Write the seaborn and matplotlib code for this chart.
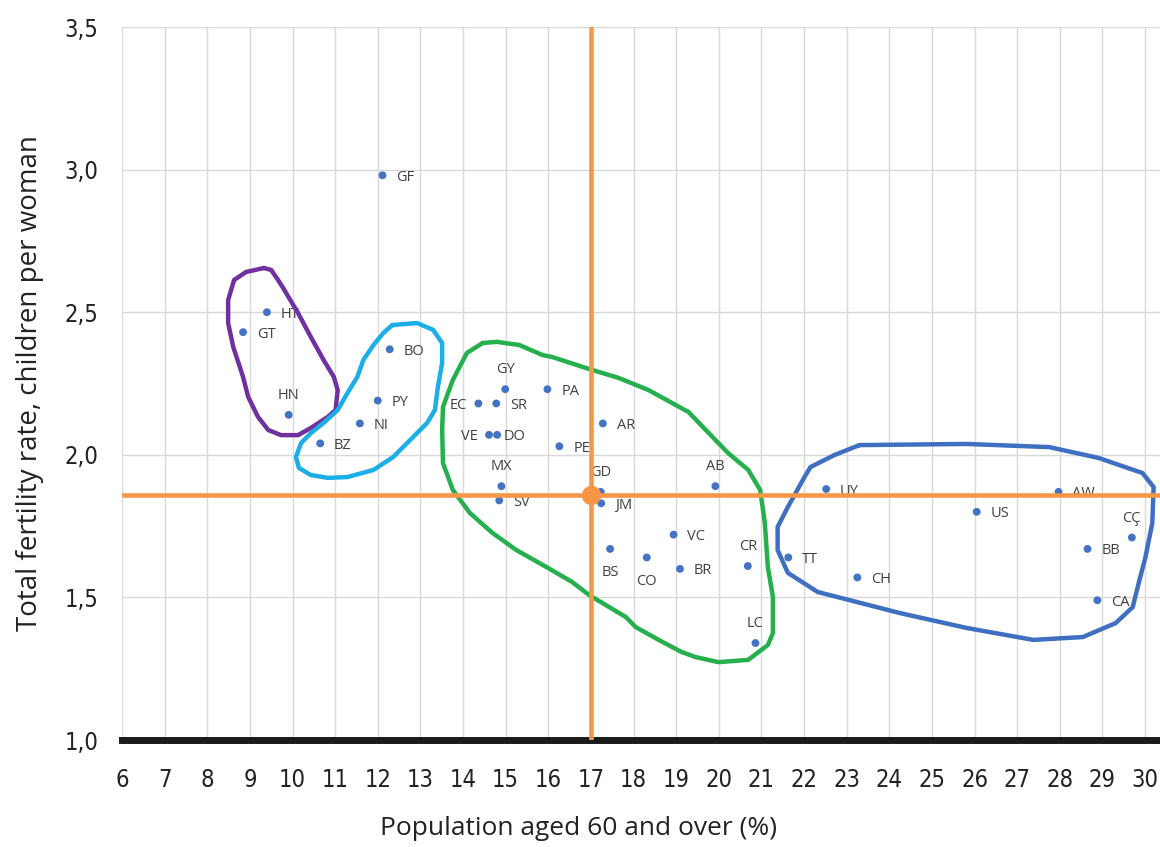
import numpy as np
import pandas as pd
import matplotlib
matplotlib.use("Agg")
import matplotlib.pyplot as plt
from matplotlib import font_manager
import seaborn as sns

# country codes with population aged 60+ (%) and total fertility rate
codes = ['GF', 'HT', 'GT', 'HN', 'BO', 'PY', 'NI', 'BZ', 'GY', 'PA', 'EC', 'SR',
         'AR', 'VE', 'DO', 'PE', 'MX', 'SV', 'GD', 'JM', 'AB', 'VC', 'BS', 'CO',
         'BR', 'CR', 'LC', 'TT', 'UY', 'AW', 'US', 'CÇ', 'BB', 'CH', 'CA']
age60 = [12.11, 9.40, 8.84, 9.91, 12.28, 12.00, 11.58, 10.65, 14.99, 15.98, 14.36, 14.78,
         17.28, 14.61, 14.80, 16.26, 14.90, 14.85, 17.23, 17.24, 19.92, 18.94, 17.45, 18.31,
         19.09, 20.68, 20.86, 21.63, 22.52, 27.97, 26.05, 29.69, 28.65, 23.25, 28.88]
tfr = [2.98, 2.50, 2.43, 2.14, 2.37, 2.19, 2.11, 2.04, 2.23, 2.23, 2.18, 2.18,
       2.11, 2.07, 2.07, 2.03, 1.89, 1.84, 1.87, 1.83, 1.89, 1.72, 1.67, 1.64,
       1.60, 1.61, 1.34, 1.64, 1.88, 1.87, 1.80, 1.71, 1.67, 1.57, 1.49]

# reference (average) lines
mean_age = 17.0
mean_tfr = 1.86

# hand drawn group outlines (x = age 60+, y = fertility)
purple_x = [9.33, 9.50, 9.66, 9.78, 10.13, 10.43, 10.73, 10.97, 11.06, 11.01, 10.83, 10.43,
            10.13, 9.73, 9.43, 9.19, 8.96, 8.84, 8.61, 8.49, 8.49, 8.63, 8.91, 9.33]
purple_y = [2.655, 2.648, 2.613, 2.585, 2.497, 2.413, 2.332, 2.273, 2.227, 2.157, 2.133, 2.094,
            2.069, 2.069, 2.087, 2.133, 2.203, 2.273, 2.378, 2.462, 2.543, 2.613, 2.641, 2.655]
cyan_x = [12.34, 12.92, 13.30, 13.51, 13.51, 13.41, 13.34, 13.16, 12.76, 12.36, 11.90, 11.29,
          10.83, 10.43, 10.15, 10.08, 10.20, 10.43, 10.73, 11.06, 11.29, 11.52, 11.66, 11.90,
          12.13, 12.34]
cyan_y = [2.455, 2.462, 2.438, 2.392, 2.322, 2.238, 2.157, 2.112, 2.052, 1.992, 1.947, 1.922,
          1.919, 1.929, 1.954, 1.992, 2.041, 2.076, 2.112, 2.157, 2.217, 2.273, 2.332, 2.385,
          2.427, 2.455]
green_x = [14.46, 14.79, 15.32, 15.86, 16.09, 16.89, 17.66, 18.35, 19.29, 19.92, 20.22, 20.69,
           20.97, 21.08, 21.15, 21.27, 21.27, 21.15, 20.69, 19.99, 19.45, 19.12, 18.59, 18.05,
           17.82, 16.96, 16.56, 15.95, 15.25, 14.69, 14.16, 13.76, 13.53, 13.51, 13.53, 13.76,
           14.09, 14.46]
green_y = [2.392, 2.396, 2.385, 2.350, 2.343, 2.304, 2.269, 2.227, 2.150, 2.052, 2.006, 1.947,
           1.877, 1.761, 1.607, 1.501, 1.375, 1.333, 1.281, 1.273, 1.291, 1.309, 1.351, 1.396,
           1.431, 1.508, 1.554, 1.607, 1.666, 1.726, 1.796, 1.877, 1.971, 2.087, 2.168, 2.262,
           2.357, 2.392]
blue_x = [23.30, 25.81, 27.75, 28.91, 29.94, 30.20, 30.17, 30.01, 29.85, 29.71, 29.31, 28.54,
          27.38, 25.81, 24.25, 22.32, 21.62, 21.38, 21.38, 21.62, 22.01, 22.15, 22.71, 23.30]
blue_y = [2.034, 2.038, 2.027, 1.989, 1.936, 1.887, 1.761, 1.642, 1.550, 1.466, 1.410, 1.361,
          1.351, 1.393, 1.445, 1.519, 1.586, 1.666, 1.747, 1.817, 1.922, 1.957, 1.999, 2.034]

xticks = list(range(6, 31))
yticks = [1.0, 1.5, 2.0, 2.5, 3.0, 3.5]
ytick_labels = ['1,0', '1,5', '2,0', '2,5', '3,0', '3,5']

# where each code label sits relative to its dot (offset points)
label_pos = {'HN': 'above', 'GY': 'above', 'MX': 'above', 'GD': 'above', 'AB': 'above',
             'CR': 'above', 'LC': 'above', 'CÇ': 'above', 'BS': 'below', 'CO': 'below',
             'EC': 'left', 'VE': 'left'}
offsets = {'right': (10, -1.5, 'left'), 'left': (-8, -1.5, 'right'),
           'above': (0, 14, 'center'), 'below': (0, -17, 'center')}


def pick_narrow_font():
    # the tick labels are set in a condensed face; take whatever narrow one exists
    for fam, stretch in [('Liberation Sans Narrow', 'normal'), ('DejaVu Sans', 'condensed')]:
        try:
            path = font_manager.findfont(font_manager.FontProperties(family=fam, stretch=stretch),
                                         fallback_to_default=False)
            if fam == 'DejaVu Sans' and 'Condensed' not in path:
                continue
            return fam, stretch
        except Exception:
            pass
    return 'Lato', 'normal'


df = pd.DataFrame({'code': codes, 'age60': age60, 'tfr': tfr})

sns.set_theme(style='white')
plt.rcParams['font.family'] = ['Open Sans', 'DejaVu Sans']
narrow_family, narrow_stretch = pick_narrow_font()

fig = plt.figure(figsize=(11.6, 8.47), dpi=100)
ax = fig.add_axes([122 / 1160, 107 / 847, 1038 / 1160, 713 / 847])

sns.scatterplot(data=df, x='age60', y='tfr', ax=ax, color='#4472C4', s=32,
                edgecolor='none', zorder=3, legend=False)

for c, xv, yv in zip(codes, age60, tfr):
    dx, dy, ha = offsets[label_pos.get(c, 'right')]
    if c == 'DO':
        dx = 5
    ax.annotate(c, (xv, yv), xytext=(dx, dy), textcoords='offset points',
                ha=ha, va='center', fontsize=10.5, color='#404040', zorder=4)

for hx, hy, col in [(purple_x, purple_y, '#7030A0'), (cyan_x, cyan_y, '#1CAEE6'),
                    (green_x, green_y, '#25B04D'), (blue_x, blue_y, '#3F6FC1')]:
    ax.plot(hx, hy, color=col, lw=3.2, solid_joinstyle='round', zorder=5, clip_on=False)

orange = '#F79646'
ax.axvline(mean_age, color=orange, lw=3.3, zorder=6)
ax.axhline(mean_tfr, color=orange, lw=3.3, zorder=6)
ax.plot([mean_age], [mean_tfr], 'o', color=orange, ms=13, zorder=7)

ax.set_xlim(6, 30.35)
ax.set_ylim(1.0, 3.5)
ax.set_xticks(xticks)
ax.set_yticks(yticks)
ax.set_yticklabels(ytick_labels)
ax.grid(True, color='#D9D9D9', lw=1)
ax.set_axisbelow(True)

for s in ['top', 'right', 'left']:
    ax.spines[s].set_visible(False)
ax.spines['bottom'].set_color('#1a1a1a')
ax.spines['bottom'].set_linewidth(5)
ax.spines['bottom'].set_zorder(5.5)

ax.tick_params(axis='both', length=0)
ax.tick_params(axis='x', pad=20)
ax.tick_params(axis='y', pad=17)
for lab in ax.get_xticklabels() + ax.get_yticklabels():
    lab.set_fontfamily([narrow_family, 'DejaVu Sans'])
    lab.set_fontstretch(narrow_stretch)
    lab.set_fontsize(17)
    lab.set_color('#222222')

ax.set_xlabel('Population aged 60 and over (%)', fontsize=19, color='#222222')
ax.set_ylabel('Total fertility rate, children per woman', fontsize=20, color='#222222')
ax.xaxis.set_label_coords(0.44, -0.107)
ax.yaxis.set_label_coords(-0.075, 0.5)

fig.savefig('out.png', dpi=100)
